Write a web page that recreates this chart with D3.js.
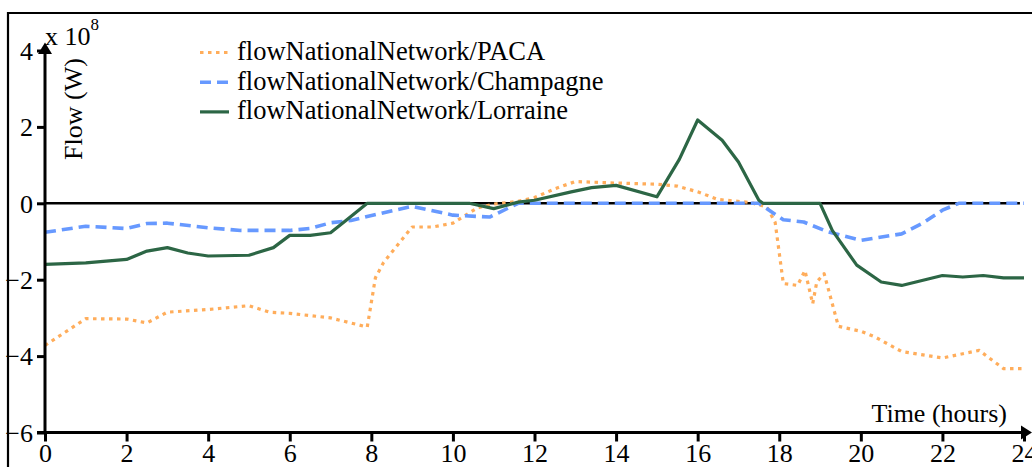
<!DOCTYPE html>
<html>
<head>
<meta charset="utf-8">
<script src="https://cdn.jsdelivr.net/npm/d3@7"></script>
<style>
  html, body { margin: 0; padding: 0; background: #fff; }
  svg { display: block; }
  text { font-family: "Liberation Serif", "Times New Roman", serif; fill: #000; }
</style>
</head>
<body>
<svg id="chart" width="1032" height="467"></svg>
<script>
// Hourly power flows on the national network, in units of 1e8 W
const seriesNames = ["flowNationalNetwork/PACA", "flowNationalNetwork/Champagne", "flowNationalNetwork/Lorraine"];
const xTicks = [0, 2, 4, 6, 8, 10, 12, 14, 16, 18, 20, 22, 24];
const yTicks = [-6, -4, -2, 0, 2, 4];

const pacaT = [0, 1, 2, 2.5, 3, 4, 5, 5.5, 6, 7, 7.9, 8.1, 8.3, 9, 9.5, 10, 10.6, 11, 11.6, 12, 12.5, 13, 14, 15, 15.5, 16, 16.5, 17.3, 17.7, 17.9, 18.1, 18.45, 18.63, 18.82, 18.92, 19.1, 19.45, 20, 20.35, 21, 22, 22.9, 23.5, 24];
const pacaV = [-3.72, -3.02, -3.03, -3.13, -2.85, -2.78, -2.68, -2.85, -2.88, -3.0, -3.24, -1.95, -1.55, -0.62, -0.62, -0.52, -0.12, -0.02, 0.05, 0.15, 0.38, 0.57, 0.53, 0.5, 0.45, 0.3, 0.1, 0.02, -0.1, -0.5, -2.1, -2.15, -1.76, -2.63, -2.06, -1.84, -3.22, -3.35, -3.5, -3.88, -4.05, -3.85, -4.33, -4.33];

const champT = [0, 1, 2, 2.5, 3, 4, 4.8, 6, 6.5, 7, 7.5, 8.2, 9, 10, 10.9, 11.6, 12, 14, 16, 17.5, 18.1, 18.6, 19.2, 20, 21, 21.5, 22, 22.4, 24];
const champV = [-0.76, -0.6, -0.66, -0.53, -0.52, -0.64, -0.71, -0.71, -0.66, -0.51, -0.45, -0.27, -0.08, -0.31, -0.36, 0, 0, 0, 0, 0, -0.43, -0.49, -0.75, -0.97, -0.8, -0.53, -0.18, 0, 0];

const lorT = [0, 1, 2, 2.5, 3, 3.5, 4, 5, 5.6, 6, 6.5, 7, 7.4, 7.9, 10.4, 11, 11.6, 12, 12.9, 13.4, 14, 15, 15.55, 16, 16.6, 17, 17.5, 17.6, 19, 19.3, 19.9, 20.5, 21, 22, 22.5, 23, 23.5, 24];
const lorV = [-1.6, -1.56, -1.47, -1.25, -1.16, -1.3, -1.38, -1.36, -1.16, -0.84, -0.84, -0.77, -0.43, 0, 0, -0.14, 0.03, 0.08, 0.3, 0.41, 0.47, 0.17, 1.15, 2.18, 1.65, 1.08, 0.08, 0, 0, -0.71, -1.62, -2.06, -2.15, -1.89, -1.93, -1.89, -1.95, -1.95];

const zeroT = [0, 23.9];
const zeroV = [0, 0];

const FONT = 26;
const svg = d3.select("#chart");

const x = d3.scaleLinear().domain([0, 24]).range([45, 1024]);
const y = d3.scaleLinear().domain([-6, 4]).range([432.5, 50.5]);

// outer frame (left and top edges)
svg.append("path")
  .attr("d", "M8,467 L8,13 L1032,13")
  .attr("fill", "none").attr("stroke", "#000").attr("stroke-width", 2.2);

const line = d3.line().x(d => x(d[0])).y(d => y(d[1]));
const zip = (ts, vs) => ts.map((t, i) => [t, vs[i]]);

// horizontal zero reference
svg.append("path")
  .datum(zip(zeroT, zeroV))
  .attr("d", line)
  .attr("fill", "none").attr("stroke", "#000").attr("stroke-width", 2.6);

const styles = [
  { color: "#ffad5b", dash: "3.5,4.5", width: 3.2, t: pacaT, v: pacaV },
  { color: "#6799ff", dash: "11,6", width: 3.6, t: champT, v: champV },
  { color: "#2c6645", dash: null, width: 3.2, t: lorT, v: lorV }
];

styles.forEach(s => {
  svg.append("path")
    .datum(zip(s.t, s.v))
    .attr("d", line)
    .attr("fill", "none")
    .attr("stroke", s.color)
    .attr("stroke-width", s.width)
    .attr("stroke-dasharray", s.dash)
    .attr("stroke-linejoin", "round");
});

// x axis
const xAxis = svg.append("g").attr("transform", `translate(0,${y(-6)})`)
  .call(d3.axisBottom(x).tickValues(xTicks).tickSize(9).tickPadding(4).tickFormat(d3.format("d")));
xAxis.attr("font-family", null);
xAxis.select(".domain").remove();
xAxis.selectAll(".tick line").attr("stroke", "#000").attr("stroke-width", 3);
xAxis.selectAll(".tick text").attr("font-size", FONT).attr("dy", "0.65em");

svg.append("line")
  .attr("x1", x(0) - 8).attr("x2", 1026).attr("y1", y(-6)).attr("y2", y(-6))
  .attr("stroke", "#000").attr("stroke-width", 3);
svg.append("path")
  .attr("d", `M1032,${y(-6)} L1021,${y(-6) - 7} L1021,${y(-6) + 7} Z`)
  .attr("fill", "#000");

// y axis
const yAxis = svg.append("g").attr("transform", `translate(${x(0)},0)`)
  .call(d3.axisLeft(y).tickValues(yTicks).tickSize(8).tickPadding(4).tickFormat(d3.format("d")));
yAxis.attr("font-family", null);
yAxis.select(".domain").remove();
yAxis.selectAll(".tick line").attr("stroke", "#000").attr("stroke-width", 3);
yAxis.selectAll(".tick text").attr("font-size", FONT).attr("dy", "0.34em");

svg.append("line")
  .attr("x1", x(0)).attr("x2", x(0)).attr("y1", y(-6) + 1.5).attr("y2", 52)
  .attr("stroke", "#000").attr("stroke-width", 3);
svg.append("path")
  .attr("d", `M${x(0)},42.5 L${x(0) - 7},54 L${x(0) + 7},54 Z`)
  .attr("fill", "#000");

// scale factor and axis titles
const sf = svg.append("text").attr("x", 45).attr("y", 44.5).attr("font-size", FONT);
sf.append("tspan").text("x 10");
sf.append("tspan").attr("dy", -14.5).attr("font-size", 17).text("8");

svg.append("text")
  .attr("transform", "translate(82,109) rotate(-90)")
  .attr("text-anchor", "middle")
  .attr("font-size", FONT)
  .text("Flow (W)");

svg.append("text")
  .attr("x", 1007).attr("y", 421.5)
  .attr("text-anchor", "end")
  .attr("font-size", FONT)
  .text("Time (hours)");

// legend
const legend = svg.append("g");
seriesNames.forEach((name, i) => {
  const yy = 52.5 + i * 29.7;
  const s = styles[i];
  legend.append("line")
    .attr("x1", 200).attr("x2", 229).attr("y1", yy).attr("y2", yy)
    .attr("stroke", s.color).attr("stroke-width", s.width)
    .attr("stroke-dasharray", s.dash);
  legend.append("text")
    .attr("x", 237).attr("y", yy + 7.5)
    .attr("font-size", 26.5)
    .text(name);
});
</script>
</body>
</html>
